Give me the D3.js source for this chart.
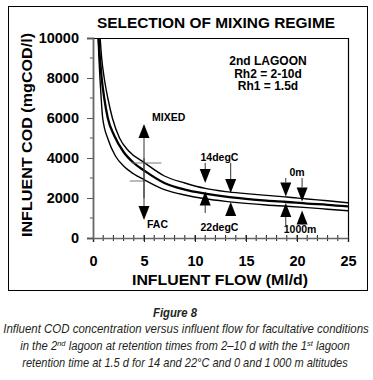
<!DOCTYPE html>
<html>
<head>
<meta charset="utf-8">
<script src="https://cdn.jsdelivr.net/npm/d3@7"></script>
<style>
  body { margin: 0; background: #fff; }
  svg { display: block; }
  .axisText { font-family: "Liberation Sans", Arial, sans-serif; font-weight: bold; }
  .caption { font-family: "Liberation Sans", Arial, sans-serif; font-style: italic; fill: #231f20; }
</style>
</head>
<body>
<div id="chart"></div>
<script>
// Curves: [flow (Ml/d), COD (mg/l)]
const upperCurve = [
  [0.7, 10000], [0.85, 9000], [1.1, 8000], [1.45, 7000], [1.9, 6000], [2.6, 5000],
  [3.5, 4350], [5, 3780], [7, 3100], [9, 2750], [11, 2480], [13, 2320], [15, 2220],
  [17, 2130], [19, 2050], [21, 1950], [23, 1860], [25, 1760]
];
const middleCurve = [
  [0.55, 10000], [0.68, 9000], [0.85, 8000], [1.1, 7000], [1.45, 6000], [2.1, 5100],
  [3, 4300], [4, 3750], [5, 3380], [7, 2750], [9, 2420], [11, 2220], [13, 2070],
  [15, 1960], [17, 1870], [19, 1800], [21, 1720], [23, 1660], [25, 1580]
];
const lowerCurve = [
  [0.5, 10000], [0.58, 9000], [0.68, 8000], [0.8, 7000], [0.95, 6000], [1.5, 4900],
  [2.2, 4100], [3, 3600], [4, 3200], [5, 2920], [7, 2420], [9, 2150], [11, 1960],
  [13, 1830], [15, 1730], [17, 1650], [19, 1590], [21, 1520], [23, 1440], [25, 1360]
];

// Annotation arrows: flow, tip value, tail value
const arrowFlow = [5, 5, 11, 13.5, 11, 13.5, 18.9, 20.5, 18.9, 20.5];
const arrowTip  = [5700, 900, 2750, 2250, 2330, 1800, 2080, 1830, 1750, 1370];
const arrowTail = [2000, 4000, 3760, 3760, 1250, 1250, 3000, 3000, 620, 820];

// Cross marks on the FAC/MIXED line
const markCod = [3750, 2850];
const markFrom = [3.8, 3.6];
const markTo = [6.7, 5.1];

const xTicks = [0, 5, 10, 15, 20, 25];
const yTicks = [0, 2000, 4000, 6000, 8000, 10000];

const width = 373, height = 380;
const plot = { left: 93, right: 348, top: 38, bottom: 238 };

const svg = d3.select("#chart").append("svg")
  .attr("width", width)
  .attr("height", height);

// outer frame
svg.append("rect")
  .attr("x", 8.5).attr("y", 6.5)
  .attr("width", 359).attr("height", 284)
  .attr("fill", "none").attr("stroke", "#000").attr("stroke-width", 1);

const x = d3.scaleLinear().domain([0, 25]).range([plot.left, plot.right]);
const y = d3.scaleLinear().domain([0, 10000]).range([plot.bottom, plot.top]);

// title
svg.append("text")
  .attr("class", "axisText")
  .attr("x", 216).attr("y", 28)
  .attr("text-anchor", "middle")
  .attr("font-size", 14)
  .attr("textLength", 238).attr("lengthAdjust", "spacingAndGlyphs")
  .text("SELECTION OF MIXING REGIME");

// top and right frame of plot
svg.append("path")
  .attr("d", `M${plot.left},${plot.top + 0.5}H${plot.right + 0.5}V${plot.bottom}`)
  .attr("fill", "none").attr("stroke", "#000").attr("stroke-width", 1.2);

// minor ticks
svg.append("g").selectAll("line")
  .data(d3.range(1, 25))
  .join("line")
    .attr("x1", d => x(d)).attr("x2", d => x(d))
    .attr("y1", plot.bottom - 3).attr("y2", plot.bottom + 3)
    .attr("stroke", "#222").attr("stroke-width", 1);
svg.append("g").selectAll("line")
  .data(d3.range(1000, 10000, 2000))
  .join("line")
    .attr("x1", plot.left - 3).attr("x2", plot.left)
    .attr("y1", d => y(d)).attr("y2", d => y(d))
    .attr("stroke", "#555").attr("stroke-width", 1);

// X axis
const xAxis = svg.append("g")
  .attr("transform", "translate(0," + plot.bottom + ")")
  .call(d3.axisBottom(x).tickValues(xTicks).tickSize(4).tickPadding(14));
xAxis.select(".domain").attr("stroke", "#666").attr("stroke-width", 1.6);
xAxis.selectAll(".tick line").attr("y1", -3).attr("stroke", "#222");
xAxis.selectAll("text")
  .attr("class", "axisText")
  .attr("font-size", 14.5)
  .attr("fill", "#000");

// Y axis
const yAxis = svg.append("g")
  .attr("transform", "translate(" + plot.left + ",0)")
  .call(d3.axisLeft(y).tickValues(yTicks).tickSize(6).tickPadding(8).tickFormat(d3.format("d")));
yAxis.select(".domain").attr("stroke", "#666").attr("stroke-width", 1.8);
yAxis.selectAll(".tick line").attr("stroke", "#555");
yAxis.selectAll("text")
  .attr("class", "axisText")
  .attr("font-size", 14.5)
  .attr("fill", "#000");

// axis labels
svg.append("text")
  .attr("class", "axisText")
  .attr("x", 220).attr("y", 285)
  .attr("text-anchor", "middle")
  .attr("font-size", 14.5)
  .attr("textLength", 176).attr("lengthAdjust", "spacingAndGlyphs")
  .text("INFLUENT FLOW (Ml/d)");

svg.append("text")
  .attr("class", "axisText")
  .attr("transform", "translate(32,135) rotate(-90)")
  .attr("text-anchor", "middle")
  .attr("font-size", 14.5)
  .attr("textLength", 204).attr("lengthAdjust", "spacingAndGlyphs")
  .text("INFLUENT COD (mgCOD/l)");

// lagoon note
const note = ["2nd LAGOON", "Rh2 = 2-10d", "Rh1 = 1.5d"];
svg.append("g").selectAll("text")
  .data(note)
  .join("text")
    .attr("class", "axisText")
    .attr("x", 268)
    .attr("y", (d, i) => 65 + i * 12.5)
    .attr("text-anchor", "middle")
    .attr("font-size", 12)
    .text(d => d);

// curves
svg.append("clipPath").attr("id", "plotClip")
  .append("rect")
    .attr("x", plot.left).attr("y", plot.top)
    .attr("width", plot.right - plot.left).attr("height", plot.bottom - plot.top);

const line = d3.line()
  .curve(d3.curveMonotoneX)
  .x(d => x(d[0]))
  .y(d => y(d[1]));

const curves = svg.append("g").attr("clip-path", "url(#plotClip)");
[[upperCurve, 1.4], [middleCurve, 2.3], [lowerCurve, 1.4]].forEach(([data, w]) => {
  curves.append("path")
    .attr("d", line(data))
    .attr("fill", "none")
    .attr("stroke", "#000")
    .attr("stroke-width", w);
});

// cross marks
markCod.forEach((c, i) => {
  svg.append("line")
    .attr("x1", x(markFrom[i])).attr("x2", x(markTo[i]))
    .attr("y1", y(c)).attr("y2", y(c))
    .attr("stroke", "#777").attr("stroke-width", 1);
});

// arrows
arrowFlow.forEach((q, i) => {
  const px = x(q), tip = y(arrowTip[i]), tail = y(arrowTail[i]);
  const dir = tail > tip ? 1 : -1; // 1 = pointing up
  const headLen = 14, headHalf = 5.5;
  svg.append("line")
    .attr("x1", px).attr("x2", px)
    .attr("y1", tip + dir * headLen).attr("y2", tail)
    .attr("stroke", "#333").attr("stroke-width", 1);
  svg.append("path")
    .attr("d", `M${px},${tip}L${px - headHalf},${tip + dir * headLen}L${px + headHalf},${tip + dir * headLen}Z`)
    .attr("fill", "#000");
});

// arrow labels
const labels = [
  ["MIXED", x(5) + 8, 121],
  ["FAC", x(5) + 3, 228],
  ["14degC", x(12.4), 161],
  ["22degC", x(12.4), 231],
  ["0m", x(20), 176],
  ["1000m", x(20.3), 233]
];
svg.append("g").selectAll("text")
  .data(labels)
  .join("text")
    .attr("class", "axisText")
    .attr("x", d => d[1]).attr("y", d => d[2])
    .attr("text-anchor", (d, i) => i < 2 ? "start" : "middle")
    .attr("font-size", 10.5)
    .text(d => d[0]);

// caption: each line squeezed horizontally to the width it has in the figure
function captionLine(cx, cy, targetWidth, size, build) {
  const g = svg.append("g");
  const t = g.append("text")
    .attr("class", "caption")
    .attr("text-anchor", "middle")
    .attr("font-size", size);
  build(t);
  const w = t.node().getComputedTextLength();
  g.attr("transform", `translate(${cx},${cy}) scale(${targetWidth / w},1)`);
  return t;
}

captionLine(175, 317, 44, 12, t => t.attr("font-weight", "bold").text("Figure 8"));
captionLine(186, 333, 366, 12, t =>
  t.text("Influent COD concentration versus influent flow for facultative conditions"));
captionLine(185, 350, 330, 12, t => {
  t.append("tspan").text("in the 2");
  t.append("tspan").attr("font-size", 8).attr("dy", -4).text("nd");
  t.append("tspan").attr("dy", 4).text(" lagoon at retention times from 2\u201310 d with the 1");
  t.append("tspan").attr("font-size", 8).attr("dy", -4).text("st");
  t.append("tspan").attr("dy", 4).text(" lagoon");
});
captionLine(185, 367, 326, 12, t =>
  t.text("retention time at 1.5 d for 14 and 22\u00b0C and 0 and 1\u2009000 m altitudes"));
</script>
</body>
</html>
